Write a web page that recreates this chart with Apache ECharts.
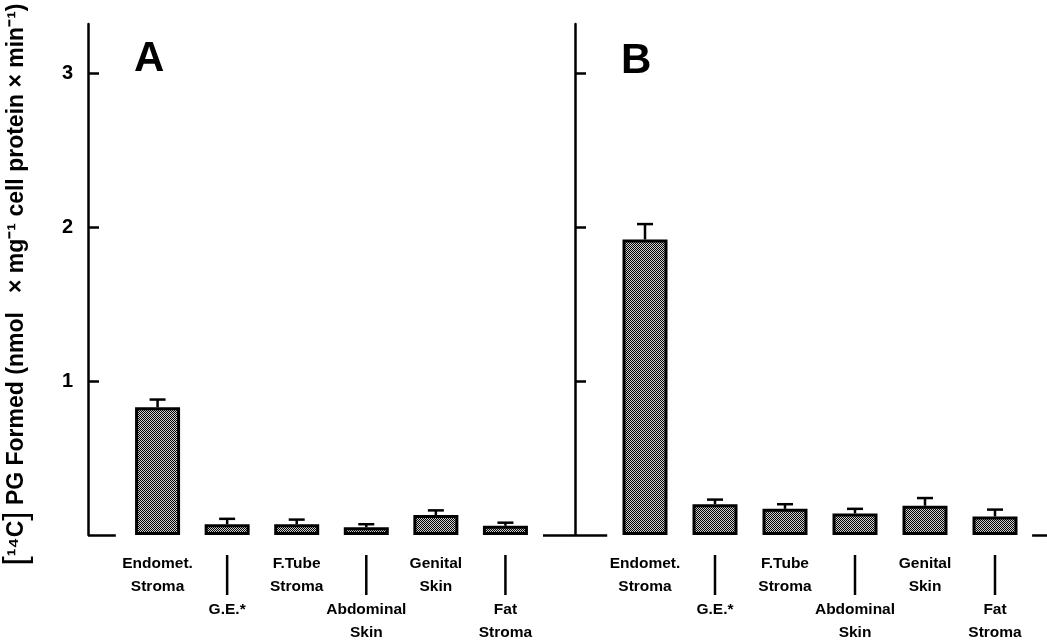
<!DOCTYPE html>
<html>
<head>
<meta charset="utf-8">
<script src="https://cdn.jsdelivr.net/npm/echarts@6/dist/echarts.min.js"></script>
<style>html,body{margin:0;padding:0;background:#fff;}#chart{width:1047px;height:642px;}</style>
</head>
<body>
<div id="chart"></div>
<script>
// ---- data ----
const categories = ['Endomet.\nStroma', 'G.E.*', 'F.Tube\nStroma', 'Abdominal\nSkin', 'Genital\nSkin', 'Fat\nStroma'];
const valuesA = [0.83, 0.07, 0.07, 0.05, 0.13, 0.06];
const errorsA = [0.05, 0.035, 0.03, 0.02, 0.03, 0.02];
const valuesB = [1.92, 0.20, 0.17, 0.14, 0.19, 0.12];
const errorsB = [0.10, 0.03, 0.03, 0.03, 0.05, 0.045];
const yTickValues = [1, 2, 3];
const panelLabels = ['A', 'B'];

const FONT = 'Liberation Sans';

// halftone fill pattern
const pat = document.createElement('canvas');
pat.width = 2; pat.height = 2;
const pctx = pat.getContext('2d');
pctx.fillStyle = '#d0d0d0'; pctx.fillRect(0, 0, 2, 2);
pctx.fillStyle = '#000'; pctx.fillRect(0, 0, 1, 1); pctx.fillRect(1, 1, 1, 1);

function labelFormatter(v) {
  const i = v - 1;
  if (i < 0 || i >= categories.length || Math.abs(v - Math.round(v)) > 1e-6) return '';
  const lines = categories[i].split('\n').map(s => '{t|' + s + '}');
  return (i % 2 ? '{vl|}\n' : '') + lines.join('\n');
}

function makeX(gridIndex) {
  return {
    type: 'value', gridIndex, min: 0, max: categories.length + 1, interval: 1,
    axisLine: { show: false }, axisTick: { show: false }, splitLine: { show: false },
    axisLabel: {
      margin: 17, formatter: labelFormatter, color: '#000',
      rich: {
        t: { fontSize: 15.5, fontWeight: 'bold', fontFamily: FONT, color: '#000', lineHeight: 23, align: 'center' },
        vl: { width: 2.5, height: 40, lineHeight: 46, backgroundColor: '#000', align: 'center' }
      }
    }
  };
}

function makeY(gridIndex, showLabels) {
  const y = {
    type: 'value', gridIndex, min: 0, max: 3.32,
    axisLine: { show: true, lineStyle: { color: '#000', width: 2.5 } },
    axisTick: { show: true, inside: true, length: 11, customValues: yTickValues, lineStyle: { color: '#000', width: 2.5 } },
    axisLabel: { show: showLabels, customValues: yTickValues, margin: 15, color: '#000', fontSize: 20, fontWeight: 'bold', fontFamily: FONT },
    splitLine: { show: false }
  };
  if (showLabels) {
    y.name = '{br|[}{n|¹⁴C}{br|]} PG Formed (nmol   × mg⁻¹ cell protein × min⁻¹)';
    y.nameLocation = 'middle';
    y.nameGap = 55;
    y.nameRotate = 90;
    y.nameTextStyle = {
      fontSize: 23, fontWeight: 'bold', fontFamily: FONT, color: '#000', padding: [0, 10, 0, 0],
      rich: {
        br: { fontSize: 33, fontWeight: 'normal', fontFamily: FONT, color: '#000' },
        n: { fontSize: 23, fontWeight: 'bold', fontFamily: FONT, color: '#000' }
      }
    };
  }
  return y;
}

function errRender(params, api) {
  const x = api.value(0), v = api.value(1), e = api.value(2);
  const b = api.coord([x, v]);
  const t = api.coord([x, v + e]);
  const st = { stroke: '#000', lineWidth: 2.5 };
  return {
    type: 'group', children: [
      { type: 'line', shape: { x1: b[0], y1: b[1], x2: t[0], y2: t[1] }, style: st },
      { type: 'line', shape: { x1: t[0] - 8, y1: t[1], x2: t[0] + 8, y2: t[1] }, style: st }
    ]
  };
}

function panelSeries(idx, values, errors, leftEnd, rightStart) {
  const n = categories.length;
  return [
    {
      type: 'bar', xAxisIndex: idx, yAxisIndex: idx, barWidth: 45,
      data: values.map((v, i) => [i + 1, v]),
      itemStyle: { color: { image: pat, repeat: 'repeat' }, borderColor: '#000', borderWidth: 3 },
      silent: true,
      markLine: {
        silent: true, symbol: ['none', 'none'], label: { show: false },
        lineStyle: { color: '#000', width: 2.5, type: 'solid' },
        data: [
          [{ coord: [0, 0] }, { coord: [leftEnd, 0] }],
          [{ coord: [rightStart, 0] }, { coord: [n + 1, 0] }]
        ]
      }
    },
    {
      type: 'custom', xAxisIndex: idx, yAxisIndex: idx, renderItem: errRender, silent: true,
      data: values.map((v, i) => [i + 1, v, errors[i]]), z: 3
    }
  ];
}

const chart = echarts.init(document.getElementById('chart'), null, { renderer: 'canvas' });
chart.setOption({
  backgroundColor: '#fff',
  animation: false,
  title: [
    { text: panelLabels[0], left: 134, top: 38, padding: 0, textStyle: { fontSize: 42, fontWeight: 'bold', fontFamily: FONT, color: '#000' } },
    { text: panelLabels[1], left: 621, top: 40, padding: 0, textStyle: { fontSize: 42, fontWeight: 'bold', fontFamily: FONT, color: '#000' } }
  ],
  grid: [
    { left: 88, top: 24, width: 487, height: 511, outerBoundsMode: 'none', containLabel: false },
    { left: 575, top: 24, width: 490, height: 511, outerBoundsMode: 'none', containLabel: false }
  ],
  xAxis: [makeX(0), makeX(1)],
  yAxis: [makeY(0, true), makeY(1, false)],
  series: [
    ...panelSeries(0, valuesA, errorsA, 0.40, 6.54),
    ...panelSeries(1, valuesB, errorsB, 0.46, 6.53)
  ]
});
</script>
</body>
</html>
